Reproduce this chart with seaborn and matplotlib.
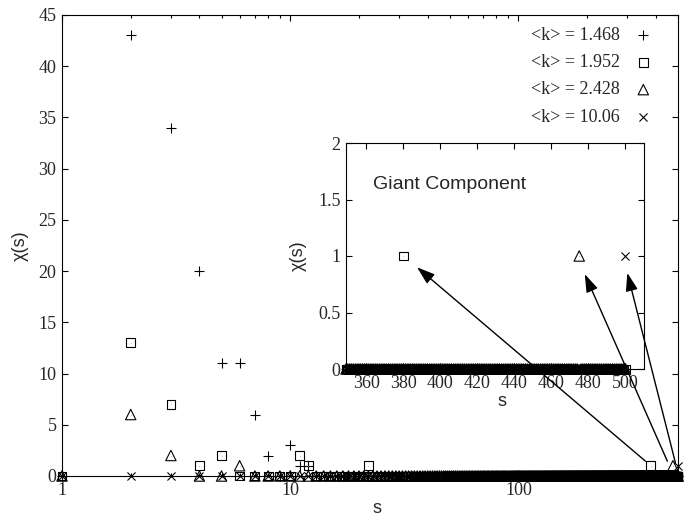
import numpy as np
import pandas as pd
import matplotlib
matplotlib.use("Agg")
import matplotlib.pyplot as plt
import seaborn as sns
from matplotlib.ticker import FixedLocator, FixedFormatter, NullFormatter, LogLocator

# cluster-size distribution chi(s); only the non-zero counts are listed,
# every other size from 1 to 500 has chi(s) = 0
n_nodes = 500
labels = ["<k> = 1.468", "<k> = 1.952", "<k> = 2.428", "<k> = 10.06"]

sizes_1468 = [2, 3, 4, 5, 6, 7, 8, 10, 11, 12]
counts_1468 = [43, 34, 20, 11, 11, 6, 2, 3, 1, 1]
sizes_1952 = [2, 3, 4, 5, 11, 12, 22, 380]
counts_1952 = [13, 7, 1, 2, 2, 1, 1, 1]
sizes_2428 = [2, 3, 6, 475]
counts_2428 = [6, 2, 1, 1]
sizes_1006 = [500]
counts_1006 = [1]

main_yticks = [0, 5, 10, 15, 20, 25, 30, 35, 40, 45]
main_xticks = [1, 10, 100]
inset_xticks = [360, 380, 400, 420, 440, 460, 480, 500]
inset_yticks = [0, 0.5, 1, 1.5, 2]

markers = ["+", "s", "^", "x"]
marker_sizes = [42, 40, 56, 34]

s_all = np.arange(1, n_nodes + 1)


def full_series(sizes, counts):
    chi = np.zeros(n_nodes)
    chi[np.array(sizes) - 1] = counts
    return chi


frames = []
for lab, sz, ct in zip(labels,
                       [sizes_1468, sizes_1952, sizes_2428, sizes_1006],
                       [counts_1468, counts_1952, counts_2428, counts_1006]):
    frames.append(pd.DataFrame({"s": s_all, "chi": full_series(sz, ct), "k": lab}))
df = pd.concat(frames, ignore_index=True)

sns.set_style("ticks")
plt.rcParams["font.family"] = ["Liberation Serif", "DejaVu Serif"]
plt.rcParams["axes.linewidth"] = 0.8

fig = plt.figure(figsize=(6.93, 5.17), dpi=100)
ax = fig.add_axes([62 / 693, 41 / 517, 616 / 693, 461 / 517])


def draw_series(axis, data, with_labels):
    for lab, m, ms in zip(labels, markers, marker_sizes):
        sub = data[data["k"] == lab]
        kw = {}
        if with_labels:
            kw["label"] = lab
        if m in ("+", "x"):
            kw["color"] = "black"
        else:
            kw["facecolor"] = "none"
            kw["edgecolor"] = "black"
        sns.scatterplot(data=sub, x="s", y="chi", marker=m, s=ms, linewidth=0.8,
                        ax=axis, clip_on=False, legend=False, zorder=3, **kw)
        if m in ("s", "^"):
            # gnuplot-style dot in the middle of the open symbols
            sns.scatterplot(data=sub, x="s", y="chi", marker=".", s=1, color="black",
                            linewidth=0, ax=axis, clip_on=False, legend=False, zorder=3)


def style_axis(axis):
    axis.tick_params(which="both", direction="in", top=True, right=True,
                     labelsize=13, width=0.8, color="black", pad=4)
    axis.tick_params(which="major", length=4)
    axis.tick_params(which="minor", length=2.5)
    for sp in axis.spines.values():
        sp.set_visible(True)
        sp.set_color("black")
        sp.set_linewidth(0.8)


# main plot
draw_series(ax, df, True)
ax.set_xscale("log")
ax.set_xlim(1, 500)
ax.set_ylim(0, 45)
ax.xaxis.set_major_locator(FixedLocator(main_xticks))
ax.xaxis.set_major_formatter(FixedFormatter([str(t) for t in main_xticks]))
ax.xaxis.set_minor_locator(LogLocator(base=10, subs=np.arange(2, 10)))
ax.xaxis.set_minor_formatter(NullFormatter())
ax.set_yticks(main_yticks)
ax.set_yticklabels([str(t) for t in main_yticks])
style_axis(ax)
ax.set_xlabel("s", family="Liberation Sans", fontsize=13, labelpad=1)
ax.xaxis.set_label_coords(0.511, -0.052)
ax.set_ylabel("χ(s)", family="Liberation Sans", fontsize=13, labelpad=7)

ax.legend(loc="upper right", bbox_to_anchor=(0.973, 0.994), frameon=False,
          markerfirst=False, handlelength=1.0, handletextpad=0.8, borderpad=0,
          labelspacing=0.57, fontsize=13, scatterpoints=1)

# inset with the giant component
axins = fig.add_axes([346 / 693, 148 / 517, 298 / 693, 226 / 517])
axins.set_facecolor("white")
draw_series(axins, df[df["s"] >= 349], False)
axins.set_xlim(349, 510)
axins.set_ylim(0, 2)
axins.set_xticks(inset_xticks)
axins.set_xticklabels([str(t) for t in inset_xticks])
axins.set_yticks(inset_yticks)
axins.set_yticklabels([f"{t:g}" for t in inset_yticks])
style_axis(axins)
axins.set_xlabel("s", family="Liberation Sans", fontsize=13, labelpad=4)
axins.xaxis.set_label_coords(0.525, -0.105)
axins.set_ylabel("χ(s)", family="Liberation Sans", fontsize=13, labelpad=8)
axins.text(363.5, 1.63, "Giant Component", family="Liberation Sans", fontsize=14,
           ha="left", va="center")

# arrows from the giant components in the main plot to the inset
arrow_kw = dict(arrowstyle="-|>,head_length=1.1,head_width=0.37", color="black",
                lw=1.0, mutation_scale=10, shrinkA=0, shrinkB=0)
for head, tail in [((387.4, 0.90), (360, 1.45)),
                   ((478, 0.84), (449, 1.45)),
                   ((501, 0.85), (487, 1.3))]:
    axins.annotate("", xy=head, xycoords="data", xytext=tail, textcoords=ax.transData,
                   arrowprops=arrow_kw, annotation_clip=False)

fig.savefig("out.png", dpi=100)
